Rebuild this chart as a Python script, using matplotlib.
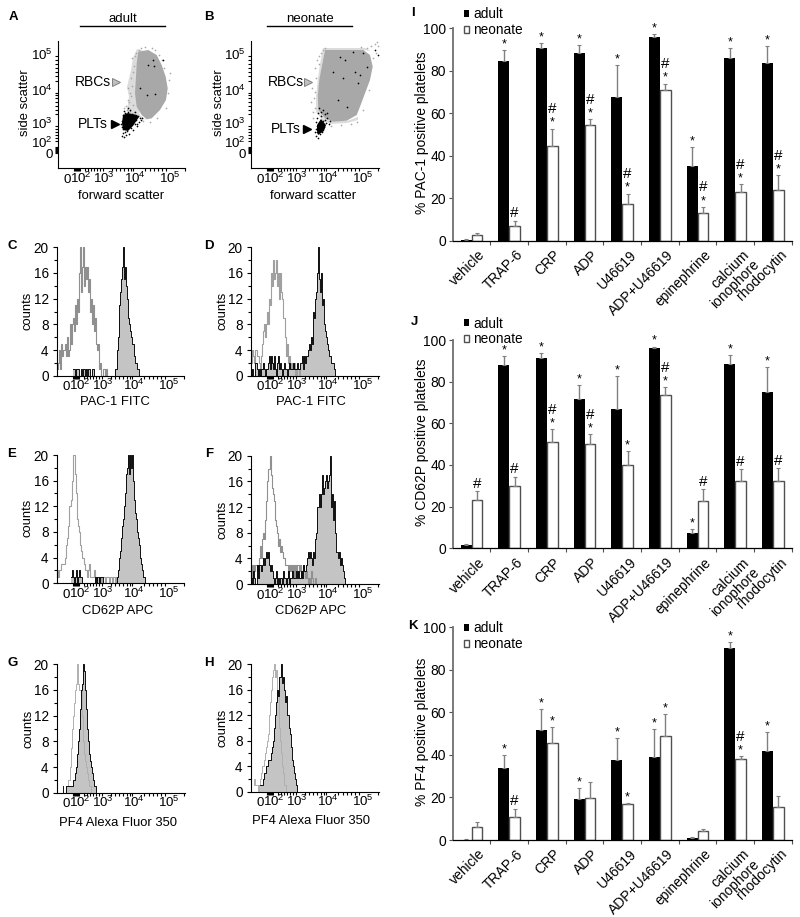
import numpy as np
import matplotlib
matplotlib.use('Agg')
import matplotlib.pyplot as plt

plt.rcParams['font.family'] = ['Liberation Sans', 'DejaVu Sans']
plt.rcParams['mathtext.fontset'] = 'custom'
plt.rcParams['mathtext.rm'] = 'Liberation Sans'
plt.rcParams['mathtext.default'] = 'regular'

W, H = 800, 917
FS = 9.4

# ---- bar data
cats = ['vehicle', 'TRAP-6', 'CRP', 'ADP', 'U46619', 'ADP+U46619', 'epinephrine', 'calcium\nionophore', 'rhodocytin']

i_adult = [0.5, 84.5, 90.8, 88.5, 67.5, 96, 35.2, 86, 83.8]
i_adult_top = [1, 89.7, 93, 92, 82.5, 97.2, 44, 90.7, 91.5]
i_neo = [2.5, 6.8, 44.8, 54.5, 17.5, 70.8, 13.2, 22.8, 24]
i_neo_top = [3.8, 9.5, 52.8, 57.3, 22.2, 74, 16, 26.7, 31]
i_star_a = [0, 1, 1, 1, 1, 1, 1, 1, 1]
i_star_n = [0, 0, 1, 1, 1, 1, 1, 1, 1]
i_hash = [0, 1, 1, 1, 1, 1, 1, 1, 1]

j_adult = [1.8, 87.8, 91.2, 71.5, 67, 96, 7.5, 88.5, 75]
j_adult_top = [2.2, 92.3, 93.7, 78.3, 82.7, 96.8, 9.4, 92.7, 87]
j_neo = [23.2, 29.8, 51, 50, 40, 73.6, 22.6, 32.5, 32.2]
j_neo_top = [27.3, 34.3, 57.2, 54.8, 46.5, 77.3, 28.3, 38, 38.5]
j_star_a = [0, 1, 1, 1, 1, 1, 1, 1, 1]
j_star_n = [0, 0, 1, 1, 1, 1, 0, 0, 0]
j_hash = [1, 1, 1, 1, 0, 1, 1, 1, 1]

k_adult = [0.2, 33.8, 51.7, 19.3, 37.8, 39.2, 1, 90.2, 41.7]
k_adult_top = [0.3, 40, 61.5, 24.5, 48, 52, 1.2, 93, 50.8]
k_neo = [6, 10.7, 45.8, 19.8, 16.8, 48.8, 4.2, 38, 15.5]
k_neo_top = [8.5, 14.7, 53.2, 27.2, 17.5, 59.3, 5.2, 39.5, 20.7]
k_star_a = [0, 1, 1, 1, 1, 1, 0, 1, 1]
k_star_n = [0, 0, 1, 0, 1, 1, 0, 1, 0]
k_hash = [0, 1, 0, 0, 0, 0, 0, 1, 0]

# ---- histograms, counts per channel (first channel given separately)
c_grey_start = 0
c_grey = [2,1,2,4,1,5,3,4,5,3,6,3,4,8,5,8,9,7,11,8,12,10,16,20,13,17,20,14,17,15,17,13,15,10,12,8,11,7,9,5,4,5,1,2,0,0,1,1,0,1,0]
c_black_start = 16
c_black = [1,1,0,1,1,1,0,0,1,0,1,1,0,1,0,1,1,0,0,1,1,0,0,0,0,0,0,0,0,0,0,0,0,0,0,0,0,0,0,0,0,0,1,1,4,6,11,13,15,17,20,15,17,14,12,9,8,7,6,5,5,3,2,2,1,1,0]
d_grey_start = 0
d_grey = [3,2,4,3,2,4,3,3,2,1,3,5,7,8,6,8,10,8,12,11,16,14,18,15,16,18,14,16,12,16,13,12,9,9,6,3,5,2,3,1,2,1,1,2,0,1,0,0,1,0]
d_black_start = 0
d_black = [1,0,1,0,0,2,1,0,1,0,1,1,2,1,0,1,1,2,3,1,3,2,1,3,1,0,2,3,1,2,1,0,1,2,1,1,0,1,2,1,1,1,2,1,1,1,2,1,1,2,2,3,1,3,2,3,3,4,5,4,6,5,10,9,12,13,16,20,15,13,16,11,12,8,7,6,5,4,3,3,2,2,2,1,0]
e_grey_start = 0
e_grey = [1,2,1,2,2,3,3,3,4,6,7,9,12,12,13,16,20,20,17,14,10,9,8,6,5,4,4,3,2,2,1,2,3,1,1,1,1,2,1,1,0,0,1,1,0,1,1,1,0,1,1,1,0,1,1,0,1,1,0,1]
e_black_start = 14
e_black = [1,2,1,0,1,2,0,1,2,1,1,0,0,0,0,0,0,0,0,0,0,0,0,0,1,0,1,1,0,1,1,1,0,0,0,0,0,0,0,0,0,0,0,0,0,0,1,2,4,5,7,9,10,12,14,17,18,20,17,20,18,20,16,13,11,10,8,7,6,4,3,2,1,1,0]
f_grey_start = 0
f_grey = [1,3,1,3,2,3,2,3,4,6,4,7,8,7,10,13,16,18,18,20,17,15,14,13,10,9,8,6,7,5,6,5,4,4,3,3,3,2,3,2,3,2,3,1,3,2,3,3,2,3,1,2,3,2,1,2,1,0,1,0,2,1,0,0,1,0]
f_black_start = 0
f_black = [0,1,0,2,1,0,3,1,3,3,2,3,4,3,4,5,4,5,3,2,3,2,1,0,1,2,0,1,0,1,1,0,2,1,1,0,1,2,0,1,1,2,1,1,1,2,1,2,1,1,2,1,3,2,2,3,4,5,4,5,4,3,5,4,7,8,12,12,14,12,14,17,14,15,16,17,15,16,17,20,12,14,10,13,8,5,5,4,5,3,4,3,2,1,0]
g_grey_start = 8
g_grey = [0,1,1,2,2,4,7,10,12,14,16,17,20,17,16,16,16,12,8,6,5,4,3,2,1,1,0]
g_black_start = 6
g_black = [1,0,0,1,1,1,1,1,1,1,2,2,3,4,6,8,10,13,16,17,20,19,16,13,10,8,6,5,4,3,2,1,1,0]
h_grey_start = 3
h_grey = [1,2,1,1,0,1,2,3,4,4,5,6,7,8,9,12,14,16,18,19,20,18,19,16,15,10,8,6,4,3,1,1,0]
h_black_start = 9
h_black = [1,1,1,2,3,3,4,4,5,5,5,6,7,8,10,12,14,16,15,18,18,20,17,18,16,14,15,12,12,10,9,7,5,4,3,2,1,0]

# ---- scatter clouds, outlines and single events in channels
a_core_x = [80.3, 90.3, 98.7, 103.7, 107.7, 109.7, 108, 102, 93.7, 88.7, 83.7, 78.7, 77, 78, 78.7]
a_core_y = [116.3, 118, 113, 103, 91.3, 79.7, 68, 58, 49.7, 48.7, 53, 61.3, 74.7, 91.3, 104.7]
a_fringe_x = [79, 85, 80, 78, 82, 88, 75, 69, 71, 69, 73, 75]
a_fringe_y = [119, 117, 100, 75, 53, 48, 53, 58, 71, 81, 98, 110]
a_plt_core_x = [65, 70, 79, 81, 75, 70, 65, 64]
a_plt_core_y = [53, 55, 53, 51, 42, 37, 38, 45]
a_plt_x = [65,66,64,67,70,72,74,76,78,80,82,68,69,71,73,75,77,79,81,83,66,65,64,67,63,72,74,77,79,84,65,66,68,70,64]
a_plt_y = [53,50,47,55,56,52,54,50,48,52,50,33,37,34,40,38,44,42,46,48,31,35,41,36,44,58,46,56,44,50,39,57,42,60,32]
a_dot_x = [90, 95, 96, 89, 97, 82, 105]
a_dot_y = [103, 108, 102, 73, 74, 80, 108]
a_speck_x = [70,72,74,68,71,73,75,69,72,76,74,70,73,77,75,72,110,111,106,104,101,97,94,87,83,81,78,76,112,85,92,99,108,66,68]
a_speck_y = [68,75,82,62,66,90,96,58,57,102,110,80,72,112,63,52,75,88,100,108,113,118,120,121,120,118,115,56,95,47,46,50,60,60,54]

b_core_x = [74, 112.3, 119, 121.7, 119, 114, 109, 105.7, 95.7, 82.3, 74, 67.3, 66.7, 68.3, 70.7]
b_core_y = [118, 118, 113, 101.3, 88, 74.7, 61.3, 53, 47.3, 46.3, 49.7, 58, 71.3, 88, 101.3]
b_fringe_x = [72, 114, 120, 112, 74, 70.7, 66.7, 67, 74, 96, 107, 107, 96, 80, 72, 65, 65, 67, 69]
b_fringe_y = [120, 120, 117, 118, 118, 101, 71, 58, 49.7, 47, 51, 48, 45, 44, 47, 56, 72, 90, 104]
b_plt_core_x = [66, 70, 75, 73, 67, 66]
b_plt_core_y = [43, 49, 43, 37, 33, 37]
b_plt_x = [65,66,67,68,70,72,74,76,78,66,65,69,71,73,75,79,65,66,67,70,68,64,72,76,74]
b_plt_y = [32,36,30,40,52,47,54,50,44,42,46,34,36,41,45,47,39,50,55,56,60,36,58,55,48]
b_dot_x = [89, 94, 102, 112, 104, 109, 116, 107, 82, 92, 87, 96, 124, 127]
b_dot_y = [111, 108, 116, 115, 96, 93, 101, 85, 96, 90, 68, 61, 118, 113]
b_speck_x = [62,64,63,61,65,64,66,68,70,72,110,116,120,124,126,122,118,125,127,112,106,100,90,80,72,62,60,64,68,74]
b_speck_y = [50,60,70,80,90,100,108,112,115,118,121,120,122,124,126,110,78,115,122,58,46,44,43,42,44,56,66,76,104,120]

# ---- channel ticks
log_labels = ['0', '$10^2$', '$10^3$', '$10^4$', '$10^5$']
x_label_ch = [9.5, 23, 46, 77, 112]
y_label_ch = [14, 26, 45, 78, 114]
x_minor_ch = [16,17,18,19,20,21,22,27,30,33,36,39,42,45,54,58,62,66,70,73,75,87,92,96,100,104,108,112,127]
y_minor_ch = [15,16,17,18,19,20,21,27,30,33,36,39,42,45,54,58,62,66,70,73,75,87,92,96,100,104,108,112]

fig = plt.figure(figsize=(W / 100, H / 100), dpi=100)


def px_axes(x0, x1, ytop, ybot):
    return fig.add_axes([x0 / W, 1 - ybot / H, (x1 - x0) / W, (ybot - ytop) / H])


def T(x, y, s, **kw):
    kw.setdefault('fontsize', FS)
    kw.setdefault('ha', 'center')
    kw.setdefault('va', 'center')
    return fig.text(x / W, 1 - y / H, s, **kw)


def style_flow(ax):
    ax.spines['top'].set_visible(False)
    ax.spines['right'].set_visible(False)
    ax.spines['left'].set_linewidth(0.8)
    ax.spines['bottom'].set_linewidth(0.8)
    ax.set_xticks(x_label_ch, log_labels)
    ax.set_xticks(x_minor_ch, minor=True)
    ax.tick_params(axis='x', which='major', length=0, pad=10.5, labelsize=9.6)
    ax.tick_params(axis='x', which='minor', length=2, width=0.8, direction='out')
    for t in ax.get_xticklabels():
        t.set_va('baseline')
    ax.patch.set_alpha(0)


def scatter_panel(x0, x1, ytop, ybot, fx, fy, cx, cy, px, py, sx, sy, dx, dy, gx, gy):
    ax = px_axes(x0, x1, ytop, ybot)
    ax.fill(fx, fy, color='#dcdcdc', lw=0)
    ax.scatter(gx, gy, s=1.5, c='#a8a8a8', lw=0)
    ax.fill(cx, cy, color='#a8a8a8', lw=0)
    ax.fill(px, py, color='k', lw=0)
    ax.scatter(sx, sy, s=1.5, c='k', lw=0)
    ax.scatter(dx, dy, s=1.5, c='k', lw=0)
    ax.set_xlim(0, x1 - x0)
    ax.set_ylim(0, ybot - ytop)
    style_flow(ax)
    ax.set_yticks(y_label_ch, log_labels)
    ax.set_yticks(y_minor_ch, minor=True)
    ax.tick_params(axis='y', which='major', length=0, pad=4, labelsize=9.6)
    ax.tick_params(axis='y', which='minor', length=2, width=0.8, direction='out')
    return ax


def hist_panel(x0, x1, ytop, ybot, gs, g, bs, b, gcol='#909090', glw=0.8):
    ax = px_axes(x0, x1, ytop, ybot)
    gx = gs + np.arange(len(g))
    bx = bs + np.arange(len(b))
    ax.fill_between(bx, b, step='mid', color='#c4c4c4', lw=0)
    ax.step(gx, g, where='mid', color=gcol, lw=glw, clip_on=False)
    ax.step(bx, b, where='mid', color='k', lw=0.65, clip_on=False)
    ax.set_xlim(0, x1 - x0)
    ax.set_ylim(0, 20)
    style_flow(ax)
    ax.set_yticks([0, 4, 8, 12, 16, 20])
    ax.set_yticks([2, 6, 10, 14, 18], minor=True)
    ax.tick_params(axis='y', which='major', length=3, width=0.8, pad=3, labelsize=FS + 0.4)
    ax.tick_params(axis='y', which='minor', length=2, width=0.8)
    return ax


def bar_panel(ytop, ybot, adult, adult_top, neo, neo_top, star_a, star_n, hash_n, ylabel, legy):
    ax = px_axes(452.7, 791.7, ytop, ybot)
    xs = np.arange(len(cats))
    w = 0.29
    ea = np.array(adult_top) - np.array(adult)
    en = np.array(neo_top) - np.array(neo)
    ekw = dict(ecolor='#808080', elinewidth=1, capsize=1.5, capthick=0.8)
    b1 = ax.bar(xs - w / 2, adult, w, color='k', label='adult', yerr=[np.zeros(9), ea], error_kw=ekw)
    b2 = ax.bar(xs + w / 2, neo, w, facecolor='w', edgecolor='#505050', lw=1, label='neonate',
                yerr=[np.zeros(9), en], error_kw=ekw)
    for i in range(len(cats)):
        if star_a[i]:
            ax.annotate('*', (xs[i] - w / 2, adult_top[i]), xytext=(0, 2), textcoords='offset points',
                        ha='center', va='baseline', fontsize=9, annotation_clip=False)
        off = 0
        if star_n[i]:
            ax.annotate('*', (xs[i] + w / 2, neo_top[i]), xytext=(0, 2), textcoords='offset points',
                        ha='center', va='baseline', fontsize=9, annotation_clip=False)
            off = 8.5
        if hash_n[i]:
            ax.annotate('#', (xs[i] + w / 2, neo_top[i]), xytext=(0, 2.5 + off), textcoords='offset points',
                        ha='center', va='baseline', fontsize=11, annotation_clip=False)
    ax.set_xlim(-0.5, 8.5)
    ax.set_ylim(0, 100)
    ax.spines['top'].set_visible(False)
    ax.spines['right'].set_visible(False)
    ax.spines['left'].set_color('#707070')
    ax.spines['left'].set_linewidth(1.3)
    ax.spines['bottom'].set_linewidth(0.9)
    ax.set_yticks([0, 20, 40, 60, 80, 100])
    ax.tick_params(axis='y', length=3, width=0.8, color='#505050', pad=2, labelsize=10)
    ax.set_xticks(np.append(xs[:-1] + 0.5, 8.5))
    ax.set_xticklabels([])
    ax.tick_params(axis='x', which='major', length=3, width=0.8, color='#505050')
    ax.set_xticks(xs + 0.18, cats, minor=True)
    ax.tick_params(axis='x', which='minor', length=0, pad=5, labelsize=FS + 0.6)
    for t in ax.get_xticklabels(minor=True):
        t.set_rotation(45)
        t.set_ha('right')
        t.set_va('top')
        t.set_rotation_mode('anchor')
        t.set_linespacing(1.0)
    T(422.5, (ytop + ybot) / 2 - 2, ylabel, rotation=90, fontsize=10)
    fig.legend([b1, b2], ['adult', 'neonate'], loc='upper left',
               bbox_to_anchor=(463.5 / W, 1 - (legy - 5.5) / H), frameon=False, fontsize=FS + 0.4,
               handlelength=0.4, handleheight=0.4, handletextpad=0.3, labelspacing=0.12,
               borderpad=0, borderaxespad=0)
    return ax


# ---- scatter panels
ax_a = scatter_panel(58, 185, 40.7, 168, a_fringe_x, a_fringe_y, a_core_x, a_core_y,
                     a_plt_core_x, a_plt_core_y, a_plt_x, a_plt_y, a_dot_x, a_dot_y, a_speck_x, a_speck_y)
ax_b = scatter_panel(251, 379, 40.7, 168, b_fringe_x, b_fringe_y, b_core_x, b_core_y,
                     b_plt_core_x, b_plt_core_y, b_plt_x, b_plt_y, b_dot_x, b_dot_y, b_speck_x, b_speck_y)

T(122.7, 18.5, 'adult', fontsize=9.5)
T(310, 18.5, 'neonate', fontsize=9.5)
fig.add_artist(plt.Line2D([80 / W, 165 / W], [1 - 25.5 / H] * 2, color='k', lw=1))
fig.add_artist(plt.Line2D([266.7 / W, 351.7 / W], [1 - 25.5 / H] * 2, color='k', lw=1))

for x, y, s in [(93, 81.7, 'RBCs'), (93, 124.3, 'PLTs'), (285.5, 81.7, 'RBCs'), (285.5, 129, 'PLTs')]:
    T(x, y, s, fontsize=10)
fig.add_artist(plt.Line2D([115.7 / W], [1 - 81.7 / H], marker='>', ms=6, mfc='#c0c0c0', mec='#808080', mew=0.7, ls=''))
fig.add_artist(plt.Line2D([114.7 / W], [1 - 124.3 / H], marker='>', ms=6, color='k', ls=''))
fig.add_artist(plt.Line2D([308 / W], [1 - 81.7 / H], marker='>', ms=6, mfc='#c0c0c0', mec='#808080', mew=0.7, ls=''))
fig.add_artist(plt.Line2D([306.7 / W], [1 - 129 / H], marker='>', ms=6, color='k', ls=''))

T(120.7, 196, 'forward scatter')
T(313, 196, 'forward scatter')
T(25.5, 103, 'side scatter', rotation=90)
T(218.5, 103, 'side scatter', rotation=90)

# ---- histogram panels
hist_panel(57, 184, 247.3, 375.7, c_grey_start, c_grey, c_black_start, c_black)
hist_panel(251, 379, 247.3, 375.7, d_grey_start, d_grey, d_black_start, d_black, gcol='#a0a0a0')
hist_panel(57, 184, 455, 583.3, e_grey_start, e_grey, e_black_start, e_black, gcol='#a0a0a0')
hist_panel(251, 379, 455.7, 584, f_grey_start, f_grey, f_black_start, f_black)
hist_panel(57, 185, 664.3, 792.7, g_grey_start, g_grey, g_black_start, g_black, gcol='#b0b0b0', glw=0.7)
hist_panel(251, 379, 664, 791.7, h_grey_start, h_grey, h_black_start, h_black, gcol='#b0b0b0', glw=0.7)

T(115, 402, 'PAC-1 FITC')
T(311, 402, 'PAC-1 FITC')
T(118, 611, 'CD62P APC')
T(311, 611, 'CD62P APC')
T(118.3, 823, 'PF4 Alexa Fluor 350')
T(311, 821, 'PF4 Alexa Fluor 350')
for x, y in [(27.7, 311), (222, 311), (27.7, 518), (222, 520), (29, 729), (222, 728)]:
    T(x, y, 'counts', rotation=90)

# ---- bar panels
bar_panel(28.3, 240.7, i_adult, i_adult_top, i_neo, i_neo_top, i_star_a, i_star_n, i_hash,
          '% PAC-1 positive platelets', 13)
bar_panel(340, 548.3, j_adult, j_adult_top, j_neo, j_neo_top, j_star_a, j_star_n, j_hash,
          '% CD62P positive platelets', 322)
bar_panel(627.3, 840, k_adult, k_adult_top, k_neo, k_neo_top, k_star_a, k_star_n, k_hash,
          '% PF4 positive platelets', 627)

for x, y, s in [(13, 17, 'A'), (209, 17, 'B'), (12, 246, 'C'), (209, 246, 'D'), (12, 454, 'E'), (209, 454, 'F'),
                (13, 663, 'G'), (209, 663, 'H'), (413, 13, 'I'), (414, 322, 'J'), (413, 626, 'K')]:
    T(x, y, s, fontweight='bold', fontsize=9.5)

fig.savefig('out.png', dpi=100)
